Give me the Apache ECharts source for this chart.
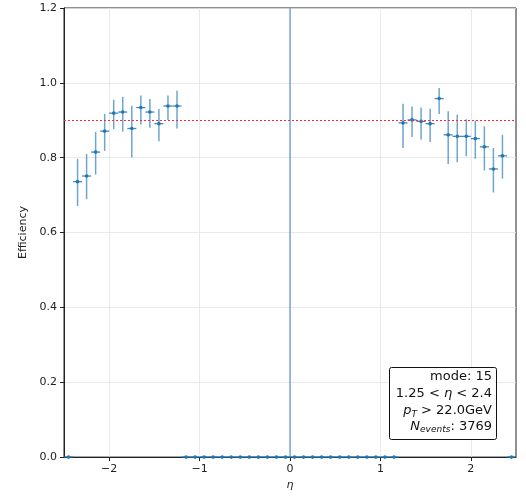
<!DOCTYPE html>
<html><head><meta charset="utf-8">
<script src="https://cdn.jsdelivr.net/npm/echarts@6/dist/echarts.min.js"></script>
<style>html,body{margin:0;padding:0;background:#fff}#c{width:526px;height:496px}</style>
</head><body><div id="c"></div>
<script>
// eta bin centres (bin width 0.1)
const etaCenters = [
  -2.45,-2.35,-2.25,-2.15,-2.05,-1.95,-1.85,-1.75,-1.65,-1.55,-1.45,-1.35,-1.25,
  -1.15,-1.05,-0.95,-0.85,-0.75,-0.65,-0.55,-0.45,-0.35,-0.25,-0.15,-0.05,
  0.05,0.15,0.25,0.35,0.45,0.55,0.65,0.75,0.85,0.95,1.05,1.15,
  1.25,1.35,1.45,1.55,1.65,1.75,1.85,1.95,2.05,2.15,2.25,2.35,2.45
];
const efficiency = [
  0,0.736,0.751,0.815,0.871,0.919,0.922,0.878,0.934,0.922,0.891,0.938,0.938,
  0,0,0,0,0,0,0,0,0,0,0,0,
  0,0,0,0,0,0,0,0,0,0,0,0,
  0.893,0.901,0.897,0.891,0.958,0.861,0.857,0.857,0.851,0.829,0.770,0.805,0
];
const effLower = [
  0,0.671,0.689,0.755,0.818,0.876,0.870,0.801,0.889,0.880,0.844,0.901,0.878,
  0,0,0,0,0,0,0,0,0,0,0,0,
  0,0,0,0,0,0,0,0,0,0,0,0,
  0.826,0.855,0.848,0.842,0.917,0.783,0.788,0.804,0.797,0.766,0.707,0.744,0
];
const effUpper = [
  0,0.797,0.810,0.869,0.917,0.955,0.962,0.939,0.966,0.957,0.930,0.966,0.979,
  0,0,0,0,0,0,0,0,0,0,0,0,
  0,0,0,0,0,0,0,0,0,0,0,0,
  0.944,0.937,0.934,0.931,0.986,0.924,0.915,0.903,0.899,0.884,0.826,0.861,0
];
const binHalfWidth = 0.05;
const xTicks = [-2,-1,0,1,2];
const threshold = 0.9;
const annotationLines = [
  '{a|mode: 15}',
  '{a|1.25 < }{i|η}{a| < 2.4}',
  '{i|p}{s|T}{a| > 22.0GeV}',
  '{i|N}{s|events}{a|: 3769}'
];

const data = etaCenters.map((x,i)=>[x, efficiency[i], effLower[i], effUpper[i]]);
const C0 = '#1f77b4';
const FONT = 'DejaVu Sans';
const rich = {
  a:{fontFamily:FONT,fontSize:13,lineHeight:16,fill:'#111'},
  i:{fontFamily:FONT,fontSize:13,lineHeight:16,fontStyle:'italic',fill:'#111'},
  s:{fontFamily:FONT,fontSize:9,lineHeight:10,fontStyle:'italic',verticalAlign:'bottom',fill:'#111'}
};
const lineY = [376.8, 393.5, 410.8, 426.5];

const chart = echarts.init(document.getElementById('c'), null, {renderer:'canvas'});
chart.setOption({
  animation:false,
  backgroundColor:'#fff',
  grid:{left:64,right:10,top:8,bottom:38,show:true,borderColor:'#222',borderWidth:1,backgroundColor:'transparent'},
  xAxis:{
    type:'value',min:-2.5,max:2.5,
    name:'η',nameLocation:'middle',nameGap:22,
    nameTextStyle:{fontFamily:FONT,fontSize:11,color:'#222',fontStyle:'italic'},
    axisLine:{show:true,onZero:false,lineStyle:{color:'#222',width:1}},
    axisTick:{show:true,length:4,customValues:xTicks,lineStyle:{color:'#222'}},
    axisLabel:{customValues:xTicks,fontFamily:FONT,fontSize:11,color:'#222',margin:7,
      formatter:v=> (v<0?'\u2212':'')+Math.abs(v)},
    splitLine:{show:true,lineStyle:{color:'#e3e3e3',width:0.8}}
  },
  yAxis:{
    type:'value',min:0,max:1.2,interval:0.2,
    name:'Efficiency',nameLocation:'middle',nameGap:32,
    nameTextStyle:{fontFamily:FONT,fontSize:11,color:'#222'},
    axisLine:{show:true,onZero:false,lineStyle:{color:'#222',width:1}},
    axisTick:{show:true,length:4,lineStyle:{color:'#222'}},
    axisLabel:{fontFamily:FONT,fontSize:11,color:'#222',margin:7,formatter:v=>v.toFixed(1)},
    splitLine:{show:true,lineStyle:{color:'#e3e3e3',width:0.8}}
  },
  series:[
    {
      type:'line',data:[],silent:true,
      markLine:{
        symbol:'none',silent:true,label:{show:false},
        data:[
          {yAxis:threshold,lineStyle:{color:'#ff2a2a',type:[2,2],width:1}},
          {xAxis:0,lineStyle:{color:'rgba(31,119,180,0.6)',type:'solid',width:1.5}}
        ]
      }
    },
    {
      type:'custom',
      data:data,
      encode:{x:0,y:1},
      clip:false,
      renderItem:(params,api)=>{
        const x=api.value(0), y=api.value(1), lo=api.value(2), hi=api.value(3);
        const p=api.coord([x,y]);
        const pl=api.coord([x-binHalfWidth,y]);
        const pr=api.coord([x+binHalfWidth,y]);
        const pLo=api.coord([x,lo]);
        const pHi=api.coord([x,hi]);
        return {type:'group',children:[
          {type:'line',shape:{x1:pLo[0],y1:pLo[1],x2:pHi[0],y2:pHi[1]},style:{stroke:'rgba(31,119,180,0.65)',lineWidth:1.5}},
          {type:'line',shape:{x1:pl[0],y1:pl[1],x2:pr[0],y2:pr[1]},style:{stroke:'rgba(31,119,180,0.85)',lineWidth:1.3}},
          {type:'circle',shape:{cx:p[0],cy:p[1],r:1.8},style:{fill:C0}}
        ]};
      }
    }
  ],
  graphic:[
    {type:'rect',x:389.5,y:367.5,shape:{width:107,height:72,r:2},
     style:{fill:'#fff',stroke:'#111',lineWidth:1},z:100}
  ].concat(annotationLines.map((t,i)=>({
    type:'text',x:492,y:lineY[i],z:101,
    style:{text:t,align:'right',verticalAlign:'middle',fontFamily:FONT,fontSize:13,fill:'#111',rich:rich}
  })))
});
</script></body></html>
